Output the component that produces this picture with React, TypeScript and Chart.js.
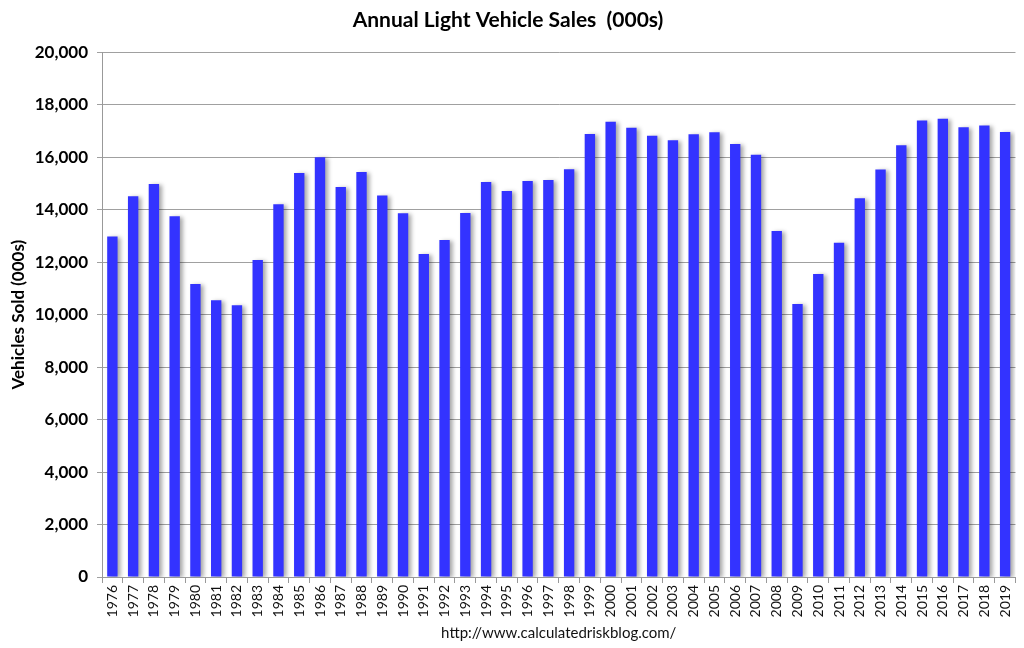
import { useRef, useEffect } from "react"
import { Chart, registerables } from "chart.js"

Chart.register(...registerables)

// Years on the category axis
const years = [
  "1976", "1977", "1978", "1979", "1980", "1981", "1982", "1983", "1984", "1985",
  "1986", "1987", "1988", "1989", "1990", "1991", "1992", "1993", "1994", "1995",
  "1996", "1997", "1998", "1999", "2000", "2001", "2002", "2003", "2004", "2005",
  "2006", "2007", "2008", "2009", "2010", "2011", "2012", "2013", "2014", "2015",
  "2016", "2017", "2018", "2019",
]

// Light vehicle sales, thousands
const sales = [
  12980, 14510, 14980, 13750, 11170, 10550, 10360, 12080, 14210, 15400,
  16000, 14860, 15430, 14540, 13860, 12310, 12840, 13870, 15050, 14710,
  15090, 15130, 15540, 16880, 17350, 17120, 16820, 16640, 16870, 16950,
  16500, 16090, 13190, 10400, 11550, 12740, 14430, 15530, 16450, 17400,
  17460, 17140, 17210, 16960,
]

const chartTitle = "Annual Light Vehicle Sales  (000s)"
const yTitle = "Vehicles Sold (000s)"
const sourceText = "http://www.calculatedriskblog.com/"

const fontFamily = "Lato, 'Open Sans', sans-serif"

// soft drop shadow behind the bars
const barShadow = {
  id: "barShadow",
  beforeDatasetsDraw(chart: Chart) {
    const ctx = chart.ctx
    ctx.save()
    ctx.shadowColor = "rgba(0, 0, 0, 0.35)"
    ctx.shadowOffsetX = 3
    ctx.shadowOffsetY = 1
    ctx.shadowBlur = 4
  },
  afterDatasetsDraw(chart: Chart) {
    chart.ctx.restore()
  },
}

export default function App() {
  const chartRef = useRef<HTMLCanvasElement>(null)
  const chartInstance = useRef<Chart | null>(null)

  useEffect(() => {
    if (!chartRef.current) return
    if (chartInstance.current) chartInstance.current.destroy()

    const ctx = chartRef.current.getContext("2d")
    if (!ctx) return

    chartInstance.current = new Chart(ctx, {
      type: "bar",
      data: {
        labels: years,
        datasets: [
          {
            data: sales,
            backgroundColor: "#3333ff",
            borderWidth: 0,
            barPercentage: 0.5,
            categoryPercentage: 1,
          },
        ],
      },
      options: {
        responsive: false,
        animation: false,
        layout: { padding: { left: 0, right: 8, top: 0, bottom: 0 } },
        plugins: {
          legend: { display: false },
          tooltip: { enabled: false },
          title: {
            display: true,
            text: chartTitle,
            color: "#000",
            font: { family: fontFamily, size: 21, weight: "bold" },
            padding: { top: 8, bottom: 19 },
          },
        },
        scales: {
          x: {
            grid: {
              drawOnChartArea: false,
              drawTicks: true,
              tickLength: 6,
              color: "#999",
              offset: true,
            },
            border: { color: "#999" },
            ticks: {
              color: "#111",
              minRotation: 90,
              maxRotation: 90,
              autoSkip: false,
              padding: 2,
              font: { family: fontFamily, size: 14 },
            },
            title: {
              display: true,
              text: sourceText,
              color: "#111",
              font: { family: fontFamily, size: 15 },
              padding: { top: 0, bottom: 6 },
            },
            afterFit(scale: any) {
              scale.height = 71
            },
          },
          y: {
            min: 0,
            max: 20000,
            grid: { color: "#a0a0a0", tickLength: 5 },
            border: { color: "#999" },
            ticks: {
              stepSize: 2000,
              color: "#000",
              padding: 9,
              font: { family: fontFamily, size: 17, weight: "bold" },
              callback: (v: any) => Number(v).toLocaleString("en-US"),
            },
            title: {
              display: true,
              text: yTitle,
              color: "#000",
              font: { family: fontFamily, size: 17, weight: "bold" },
              padding: { top: 8, bottom: 0 },
            },
            afterFit(scale: any) {
              scale.width = 102
            },
          },
        },
      },
      plugins: [barShadow],
    })

    return () => {
      if (chartInstance.current) {
        chartInstance.current.destroy()
        chartInstance.current = null
      }
    }
  }, [])

  return (
    <div style={{ position: "absolute", left: 0, top: 0, width: 1024, height: 648, background: "#fff" }}>
      <canvas ref={chartRef} width={1024} height={648} />
    </div>
  )
}
